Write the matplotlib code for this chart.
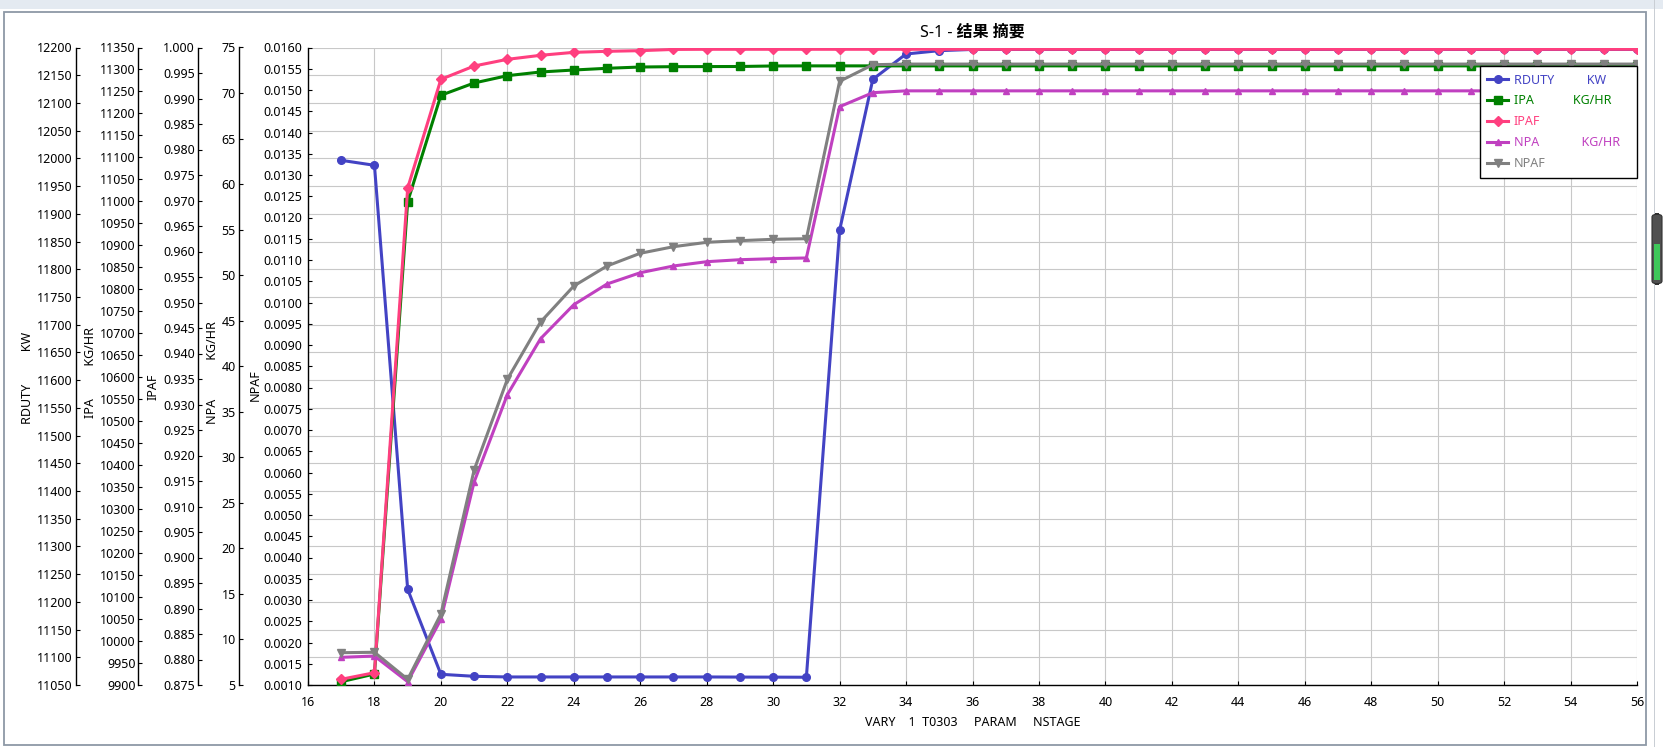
import matplotlib
matplotlib.use("Agg")
import matplotlib.pyplot as plt
from matplotlib.ticker import MultipleLocator, FormatStrFormatter
from matplotlib.patches import Rectangle, FancyBboxPatch

# stage values on the x axis
stages = list(range(17, 57))

# RDUTY (KW)
rduty = [11996.5, 11987.5, 11222.6, 11069.3, 11065.7, 11064.5, 11064.5, 11064.5,
         11064.5, 11064.5, 11064.5, 11064.5, 11064.3, 11064.2, 11064.0, 11870.2,
         12142.6, 12188.3, 12194.3, 12196.5, 12196.5, 12196.5, 12196.5, 12196.5,
         12196.5, 12196.5, 12196.5, 12196.5, 12196.5, 12196.5, 12196.5, 12196.5,
         12196.5, 12196.5, 12196.5, 12196.5, 12196.5, 12196.5, 12196.5, 12196.5]

# IPA (KG/HR)
ipa = [9907.5, 9925.0, 10999.3, 11241.3, 11269.3, 11285.9, 11294.3, 11298.8,
       11302.7, 11305.6, 11306.4, 11306.6, 11306.8, 11308.0, 11308.2, 11308.2,
       11308.2, 11308.2, 11308.2, 11308.2, 11308.2, 11308.2, 11308.2, 11308.2,
       11308.2, 11308.2, 11308.2, 11308.2, 11308.2, 11308.2, 11308.2, 11308.2,
       11308.2, 11308.2, 11308.2, 11308.2, 11308.2, 11308.2, 11308.2, 11308.2]

# IPAF
ipaf = [0.87612, 0.87741, 0.97245, 0.99376, 0.99637, 0.99768, 0.99847, 0.99905,
        0.99925, 0.99938, 0.99962, 0.99965, 0.99965, 0.99965, 0.99965, 0.99965,
        0.99965, 0.99965, 0.99965, 0.99965, 0.99965, 0.99965, 0.99965, 0.99965,
        0.99965, 0.99965, 0.99965, 0.99965, 0.99965, 0.99965, 0.99965, 0.99965,
        0.99965, 0.99965, 0.99965, 0.99965, 0.99965, 0.99965, 0.99965, 0.99965]

# NPA (KG/HR)
npa = [8.04, 8.18, 5.36, 12.21, 27.29, 36.88, 43.03, 46.76,
       49.03, 50.27, 51.01, 51.48, 51.70, 51.81, 51.89, 68.50,
       70.04, 70.24, 70.24, 70.24, 70.24, 70.24, 70.24, 70.24,
       70.24, 70.24, 70.24, 70.24, 70.24, 70.24, 70.24, 70.24,
       70.24, 70.24, 70.24, 70.24, 70.24, 70.24, 70.24, 70.24]

# NPAF
npaf = [0.00176, 0.00177, 0.001134, 0.002671, 0.006059, 0.008193, 0.009541, 0.010388,
        0.010859, 0.011158, 0.011313, 0.011416, 0.011455, 0.011487, 0.011501, 0.015205,
        0.015595, 0.01561, 0.01561, 0.01561, 0.01561, 0.01561, 0.01561, 0.01561,
        0.01561, 0.01561, 0.01561, 0.01561, 0.01561, 0.01561, 0.01561, 0.01561,
        0.01561, 0.01561, 0.01561, 0.01561, 0.01561, 0.01561, 0.01561, 0.01561]

names = ["RDUTY", "IPA", "IPAF", "NPA", "NPAF"]
units = ["KW", "KG/HR", "", "KG/HR", ""]
legend_labels = ["RDUTY          KW", "IPA            KG/HR", "IPAF",
                 "NPA             KG/HR", "NPAF"]
axis_labels = ["RDUTY          KW", "IPA          KG/HR", "IPAF",
               "NPA            KG/HR", "NPAF"]

plt.rcParams['font.family'] = ['Noto Sans', 'Noto Sans CJK SC', 'DejaVu Sans']

W, H = 1663, 747
fig = plt.figure(figsize=(W / 100, H / 100), dpi=100)
fig.patch.set_facecolor('white')

# window decoration: toolbar strip, frame, scrollbar
fig.patches.append(Rectangle((0, 1 - 9 / H), 1, 9 / H, transform=fig.transFigure,
                             facecolor='#e4eaf1', edgecolor='none'))
fig.patches.append(Rectangle((4 / W, 2 / H), 1642 / W, (745 - 12) / H,
                             transform=fig.transFigure, fill=False,
                             edgecolor='#8d99a6', lw=1.3))
fig.patches.append(Rectangle((1654 / W, 0), 1 / W, 1, transform=fig.transFigure,
                             facecolor='#c9ced4', edgecolor='none'))
fig.patches.append(FancyBboxPatch((1652 / W, 1 - 284 / H), 10 / W, 70 / H,
                                  boxstyle='round,pad=0,rounding_size=0.004',
                                  transform=fig.transFigure,
                                  facecolor='#505050', edgecolor='#303030', lw=0.8))
fig.patches.append(Rectangle((1654 / W, 1 - 280 / H), 6 / W, 36 / H,
                             transform=fig.transFigure,
                             facecolor='#3ec75a', edgecolor='none'))

left, right, top, bottom = 308, 1637, 47.5, 685
rect = [left / W, (H - bottom) / H, (right - left) / W, (bottom - top) / H]

colors = ['#4343c4', '#008000', '#ff3f7f', '#c040c0', '#808080']
markers = ['o', 's', 'D', '^', 'v']
msizes = [5.5, 5.8, 5.0, 4.5, 6.0]
ylims = [(11050, 12200), (9900, 11350), (0.875, 1.0), (5, 75), (0.001, 0.016)]
steps = [50, 50, 0.005, 5, 0.0005]
fmts = ['%d', '%d', '%.3f', '%d', '%.4f']
offsets = [232, 170, 110, 69, 0]      # px left of the plot area
label_x = [28, 91, 153, 213, 255]      # centre of y-axis titles, px
label_y = [378, 373, 387, 373, 385]
pads = [2.3, 1.8, 2.3, 2.3, 3.8]
series = [rduty, ipa, ipaf, npa, npaf]

ax0 = fig.add_axes(rect)
ax0.set_xlim(16, 56)
ax0.xaxis.set_major_locator(MultipleLocator(2))
ax0.grid(True, color='#c8c8c8', lw=0.8)
ax0.set_axisbelow(True)
ax0.tick_params(axis='x', direction='in', length=3, width=0.8, pad=8, labelsize=9)
ax0.set_xlabel("VARY    1  T0303     PARAM     NSTAGE", fontsize=9, va='center')
ax0.xaxis.set_label_coords(0.5, (bottom - 722) / (bottom - top))

width_px = right - left
lines = []
for i, vals in enumerate(series):
    if i == 0:
        ax = ax0
    else:
        ax = ax0.twinx()
        ax.yaxis.tick_left()
        ax.yaxis.set_label_position('left')
    for s in ['top', 'right']:
        ax.spines[s].set_visible(False)
    ax.spines['bottom'].set_visible(i == 0)
    ax.spines['left'].set_visible(True)
    ax.spines['left'].set_position(('outward', offsets[i] * 0.72))
    ax.spines['left'].set_linewidth(1.0)
    ax.spines['bottom'].set_linewidth(1.0)
    ax.set_ylim(*ylims[i])
    ax.yaxis.set_major_locator(MultipleLocator(steps[i]))
    ax.yaxis.set_major_formatter(FormatStrFormatter(fmts[i]))
    ax.tick_params(axis='y', direction='in', length=3, width=0.8,
                   pad=pads[i], labelsize=9)
    ax.set_ylabel(axis_labels[i], fontsize=9, va='center')
    ax.yaxis.set_label_coords((label_x[i] - left) / width_px,
                              (bottom - label_y[i]) / (bottom - top))
    ln, = ax.plot(stages, vals, color=colors[i], lw=2.2, marker=markers[i],
                  ms=msizes[i], mec=colors[i], label=legend_labels[i])
    lines.append(ln)

ax0.set_xlim(16, 56)

fig.text(972 / W, 1 - 33 / H, "S-1 - 结果 摘要", ha='center', va='center',
         fontsize=11.5, fontweight='bold')

x0 = 1479.5 / W
wl = (1636.7 - 1479.5) / W
ytop = 1 - 66 / H
leg = fig.legend(lines, legend_labels, loc='upper left',
                 bbox_to_anchor=(x0, ytop - 0.3, wl, 0.3),
                 bbox_transform=fig.transFigure, mode='expand',
                 fancybox=False, edgecolor='black', framealpha=1, fontsize=9,
                 handlelength=1.7, handletextpad=0.45, borderpad=0.6,
                 labelspacing=0.63, borderaxespad=0, numpoints=1)
leg.get_frame().set_linewidth(1.0)
for t, c in zip(leg.get_texts(), colors):
    t.set_color(c)

fig.savefig("out.png", dpi=100)
